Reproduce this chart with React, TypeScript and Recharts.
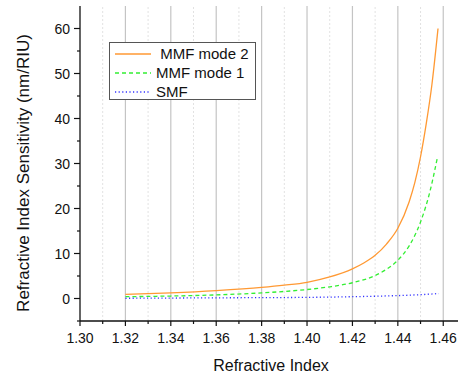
import { LineChart, Line, XAxis, YAxis, ReferenceLine } from 'recharts';

const FONT = '"Liberation Sans", Arial, sans-serif';

// x values and readings for each series
const mmf2X = [1.32, 1.34, 1.36, 1.38, 1.39, 1.40, 1.41, 1.42, 1.425, 1.43, 1.435, 1.44, 1.445, 1.4475, 1.45, 1.4525, 1.455, 1.4577];
const mmf2Y = [0.9, 1.25, 1.75, 2.45, 2.95, 3.6, 4.8, 6.6, 7.9, 9.6, 12.1, 15.6, 21.5, 25.8, 31.5, 38.8, 47.5, 60];

const mmf1X = [1.32, 1.34, 1.36, 1.38, 1.40, 1.41, 1.42, 1.43, 1.435, 1.44, 1.445, 1.45, 1.454, 1.4575];
const mmf1Y = [0.4, 0.55, 0.8, 1.25, 2.0, 2.6, 3.5, 5.1, 6.5, 8.5, 11.7, 17.0, 23.5, 31.5];

const smfX = [1.32, 1.36, 1.40, 1.42, 1.44, 1.45, 1.458];
const smfY = [0.05, 0.15, 0.25, 0.4, 0.65, 0.85, 1.1];

const majorX = [1.30, 1.32, 1.34, 1.36, 1.38, 1.40, 1.42, 1.44, 1.46];
const minorX = [1.31, 1.33, 1.35, 1.37, 1.39, 1.41, 1.43, 1.45];
const majorY = [0, 10, 20, 30, 40, 50, 60];
const minorY = [-5, 5, 15, 25, 35, 45, 55];

const allX = [...majorX, ...minorX].sort((a, b) => a - b);
const allY = [...majorY, ...minorY].sort((a, b) => a - b);

const zip = (xs: number[], ys: number[]) => xs.map((x, i) => ({ x, y: ys[i] }));

const series = [
  { name: 'MMF mode 2', color: '#FF9933', dash: undefined as string | undefined, data: zip(mmf2X, mmf2Y), label: '\u00a0MMF mode 2' },
  { name: 'MMF mode 1', color: '#33EE33', dash: '4 3', data: zip(mmf1X, mmf1Y), label: 'MMF mode 1' },
  { name: 'SMF', color: '#3333FF', dash: '1.2 2.4', data: zip(smfX, smfY), label: 'SMF' },
];

const isMajor = (list: number[], v: number) => list.some(m => Math.abs(m - v) < 1e-6);

// bottom axis tick: long tick + label for majors, short tick for minors
function XTick(props: any) {
  const { x, y, payload } = props;
  const major = isMajor(majorX, payload.value);
  return (
    <g>
      <line x1={x} y1={y} x2={x} y2={y + (major ? 5 : 3)} stroke="#111" strokeWidth={1.2} />
      {major && (
        <text x={x} y={y + 22} textAnchor="middle" fontFamily={FONT} fontSize={14} fill="#111">
          {Number(payload.value).toFixed(2)}
        </text>
      )}
    </g>
  );
}

function YTick(props: any) {
  const { x, y, payload } = props;
  const major = isMajor(majorY, payload.value);
  return (
    <g>
      <line x1={x - (major ? 6 : 3)} y1={y} x2={x} y2={y} stroke="#111" strokeWidth={1.2} />
      {major && (
        <text x={x - 10} y={y + 5} textAnchor="end" fontFamily={FONT} fontSize={14} fill="#111">
          {payload.value}
        </text>
      )}
    </g>
  );
}

function LegendBox() {
  return (
    <div style={{
      position: 'absolute',
      left: 109,
      top: 42,
      border: '1px solid #555',
      background: '#fff',
      width: 145,
      height: 55,
      boxSizing: 'content-box',
      fontFamily: FONT,
      fontSize: 15,
      color: '#111',
      paddingTop: 1,
    }}>
      {series.map(s => (
        <div key={s.name} style={{ display: 'flex', alignItems: 'center', height: 19, lineHeight: '19px' }}>
          <svg width={46} height={10} style={{ display: 'block' }}>
            <line x1={5} y1={5} x2={41} y2={5} stroke={s.color} strokeWidth={1.3} strokeDasharray={s.dash} />
          </svg>
          <span>{s.label}</span>
        </div>
      ))}
    </div>
  );
}

export default function App() {
  return (
    <div style={{ position: 'absolute', left: 0, top: 0, width: 459, height: 376, background: '#fff' }}>
      <LineChart width={459} height={376} margin={{ top: 6, right: 1, bottom: 25, left: 30 }}>
        {minorX.map(v => (
          <ReferenceLine key={'m' + v} x={v} stroke="#e2e2e2" strokeDasharray="2 2" strokeWidth={1} />
        ))}
        {majorX.slice(1).map(v => (
          <ReferenceLine key={'M' + v} x={v} stroke="#c4c4c4" strokeWidth={1.2} />
        ))}
        <XAxis
          type="number"
          dataKey="x"
          domain={[1.30, 1.4665]}
          allowDataOverflow
          ticks={allX}
          interval={0}
          tick={<XTick />}
          tickSize={0}
          tickMargin={0}
          tickLine={false}
          height={30}
          axisLine={{ stroke: '#111', strokeWidth: 1.3 }}
          label={{
            content: () => (
              <text x={271} y={371} textAnchor="middle" fontFamily={FONT} fontSize={16} fill="#111">
                Refractive Index
              </text>
            ),
          }}
        />
        <XAxis
          xAxisId="top"
          orientation="top"
          type="number"
          dataKey="x"
          domain={[1.30, 1.4665]}
          allowDataOverflow
          ticks={majorX}
          tick={false}
          mirror
          tickSize={5}
          height={0}
          axisLine={{ stroke: '#111', strokeWidth: 1.3 }}
          tickLine={{ stroke: '#111', strokeWidth: 1.2 }}
        />
        <YAxis
          type="number"
          domain={[-5, 65]}
          allowDataOverflow
          ticks={allY}
          interval={0}
          tick={<YTick />}
          tickSize={0}
          tickMargin={0}
          tickLine={false}
          width={50}
          axisLine={{ stroke: '#111', strokeWidth: 1.3 }}
          label={{
            content: () => (
              <text x={29} y={173} transform="rotate(-90 29 173)" textAnchor="middle" fontFamily={FONT} fontSize={17} fill="#111">
                Refractive Index Sensitivity (nm/RIU)
              </text>
            ),
          }}
        />
        {series.map(s => (
          <Line
            key={s.name}
            data={s.data}
            dataKey="y"
            name={s.name}
            type="monotone"
            stroke={s.color}
            strokeWidth={1.3}
            strokeDasharray={s.dash}
            dot={false}
            activeDot={false}
            isAnimationActive={false}
          />
        ))}
      </LineChart>
      <LegendBox />
    </div>
  );
}
